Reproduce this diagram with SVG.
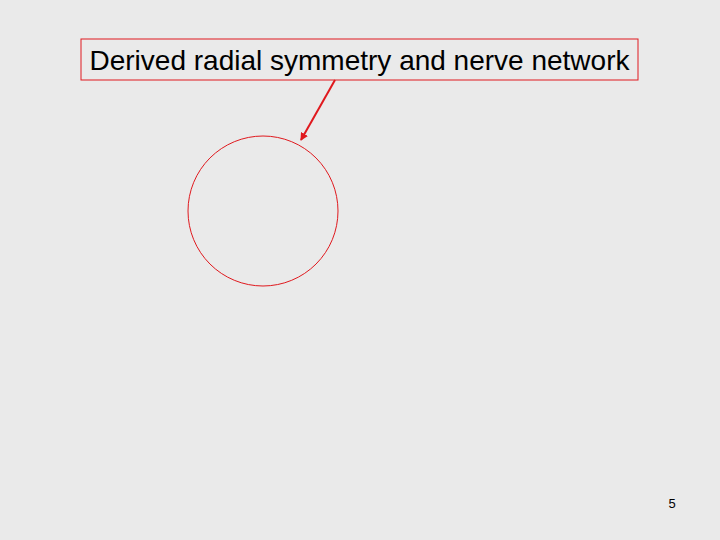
<svg xmlns="http://www.w3.org/2000/svg" width="720" height="540" viewBox="0 0 720 540">
<style>
.red{fill:none;stroke:#e0191e;stroke-width:1}
text{font-family:"Liberation Sans",Arial,sans-serif;fill:#000}
</style>
<defs>
<marker id="ah" markerWidth="8" markerHeight="8" refX="7" refY="4" orient="auto" markerUnits="userSpaceOnUse">
<path d="M0,0 L8,4 L0,8 Z" fill="#e0191e"/>
</marker>
</defs>
<rect width="720" height="540" fill="#eaeaea"/>
<g id="label">
<rect x="81" y="39" width="557" height="41" class="red"/>
<text x="359.5" y="70" font-size="28" text-anchor="middle">Derived radial symmetry and nerve network</text>
</g>
<g id="circle">
<circle cx="263" cy="211" r="75" class="red"/>
</g>
<g id="connectors">
<line x1="335" y1="80" x2="301" y2="140" stroke="#e0191e" stroke-width="2" marker-end="url(#ah)"/>
</g>
<g id="page">
<text x="672" y="508" font-size="13" text-anchor="middle">5</text>
</g>
</svg>
